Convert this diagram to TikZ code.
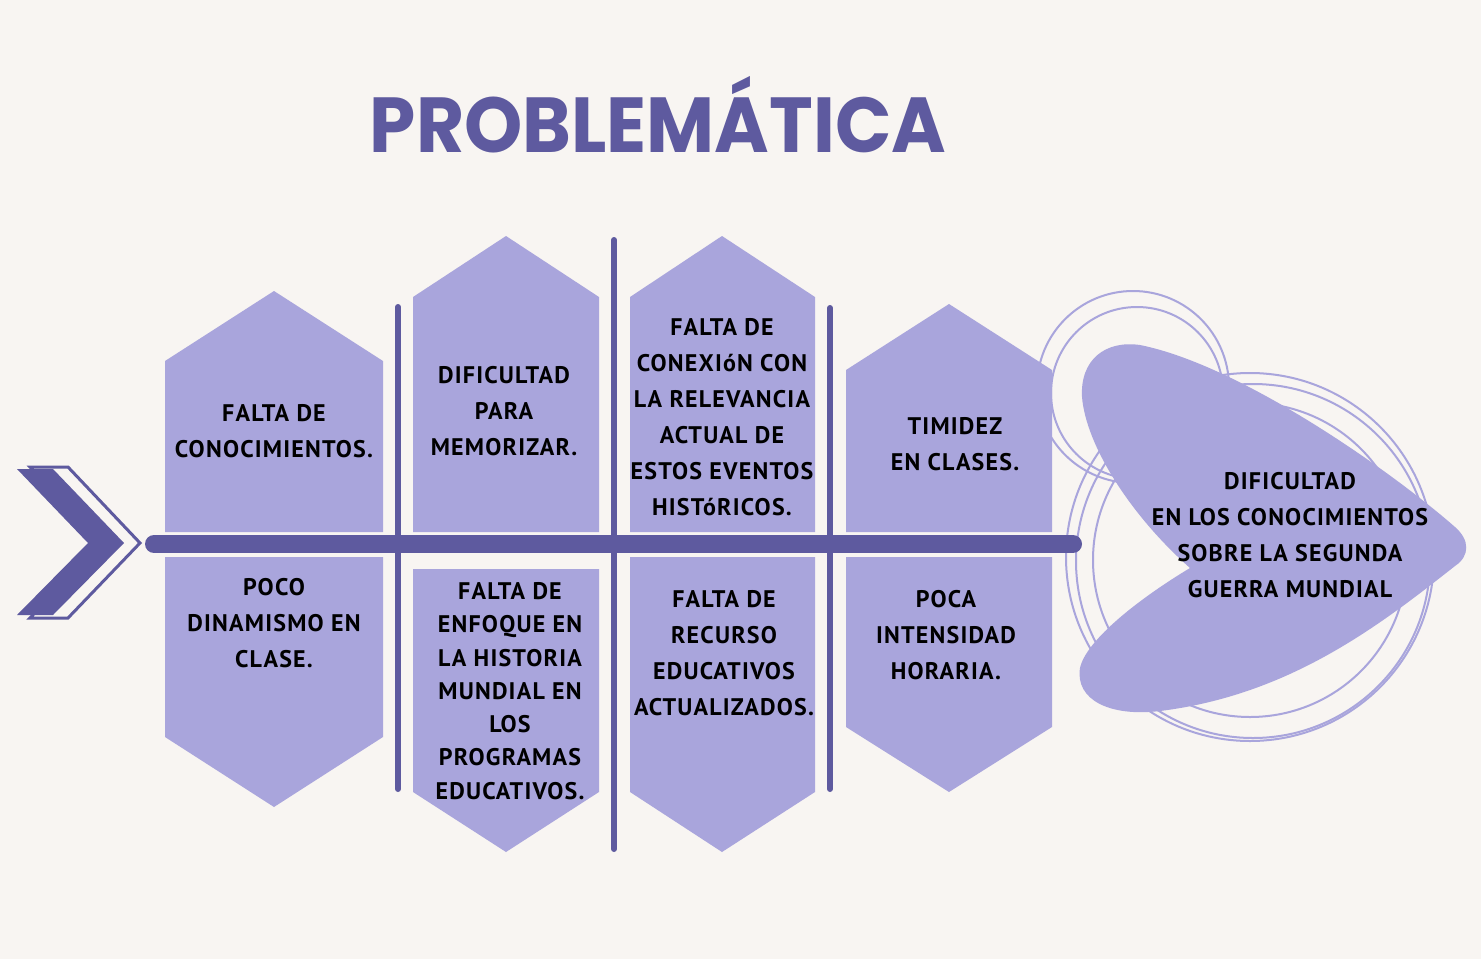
\documentclass[tikz,border=0pt]{standalone}
\usepackage{fontspec}
\newfontfamily\handfont{PT Sans}[LetterSpace=5]
\newfontfamily\titlefont{Poppins}
\definecolor{bg}{RGB}{248,245,242}
\definecolor{lav}{RGB}{169,165,220}
\definecolor{ink}{RGB}{94,90,159}
\tikzset{
  pent/.style={fill=lav, draw=none},
  bone/.style={draw=ink, line width=6pt, line cap=round},
  spine/.style={draw=ink, line width=18pt, line cap=round},
  ring/.style={draw=lav, line width=2pt},
  lbl/.style={font=\handfont\bfseries\fontsize{24}{36}\selectfont, align=center, text=black, inner sep=0pt},
  lbltight/.style={font=\handfont\bfseries\fontsize{24}{33.3}\selectfont, align=center, text=black, inner sep=0pt},
}
\begin{document}
\begin{tikzpicture}[x=1pt,y=-1pt]
\useasboundingbox (0,0) rectangle (1481,959);
\fill[bg] (0,0) rectangle (1481,959);

% title
\node[anchor=base, text=ink, inner sep=0pt, font=\titlefont\bfseries\fontsize{78}{80}\selectfont] (title) at (658,152) {\scalebox{0.95}[1]{PROBLEMÁTICA}};

% rings behind the head
\draw[ring] (1133,387) circle (96);
\draw[ring] (1137,393) circle (86);
\draw[ring] (1250,557) circle (184);
\draw[ring] (1253,561) circle (177);
\draw[ring] (1250,560) circle (157);

% head blob
\fill[lav] (1190,568) .. controls (1130,515) and (1086,445) .. (1082,397)
  .. controls (1080,360) and (1105,340) .. (1140,345)
  .. controls (1240,365) and (1390,470) .. (1455,527)
  .. controls (1470,540) and (1470,556) .. (1455,566)
  .. controls (1380,625) and (1290,695) .. (1160,711)
  .. controls (1110,717) and (1075,700) .. (1080,668)
  .. controls (1086,640) and (1140,598) .. (1190,568) -- cycle;

% top pentagons
\fill[pent] (165,532) -- (165,361) -- (274,291) -- (383,361) -- (383,532) -- cycle;
\fill[pent] (413,532) -- (413,297) -- (506,236) -- (599,297) -- (599,532) -- cycle;
\fill[pent] (630,532) -- (630,297) -- (722,236) -- (815,297) -- (815,532) -- cycle;
\fill[pent] (846,532) -- (846,370) -- (949,304) -- (1052,370) -- (1052,532) -- cycle;
% bottom pentagons
\fill[pent] (165,557) -- (165,737) -- (274,807) -- (383,737) -- (383,557) -- cycle;
\fill[pent] (413,569) -- (413,792) -- (506,852) -- (599,792) -- (599,569) -- cycle;
\fill[pent] (630,557) -- (630,792) -- (722,852) -- (815,792) -- (815,557) -- cycle;
\fill[pent] (846,557) -- (846,727) -- (949,792) -- (1052,727) -- (1052,557) -- cycle;

% spine and bones
\coordinate (sL) at (154,544);
\coordinate (sR) at (1073,544);
\draw[spine] (sL) -- (sR);
\coordinate (v1t) at (398,307); \coordinate (v1b) at (398,789);
\coordinate (v2t) at (614,240); \coordinate (v2b) at (614,849);
\coordinate (v3t) at (830,308); \coordinate (v3b) at (830,789);
\draw[bone] (v1t) -- (v1b);
\draw[bone] (v2t) -- (v2b);
\draw[bone] (v3t) -- (v3b);

% tail chevrons
\draw[ink, line width=3pt, fill=bg, line join=miter] (30,467) -- (68,467) -- (140,543) -- (68,618) -- (30,618) -- (102,543) -- cycle;
\fill[ink] (17,469) -- (53,469) -- (124,543) -- (53,615) -- (17,615) -- (88,543) -- cycle;

% labels
\node[lbl] (a) at (274,431) {FALTA DE\\CONOCIMIENTOS.};
\node[lbl] (b) at (504,411) {DIFICULTAD\\PARA\\MEMORIZAR.};
\node[lbl] (c) at (722,417) {FALTA DE\\CONEXIóN CON\\LA RELEVANCIA\\ACTUAL DE\\ESTOS EVENTOS\\HISTóRICOS.};
\node[lbl] (d) at (955,444) {TIMIDEZ\\EN CLASES.};
\node[lbl] (e) at (274,623) {POCO\\DINAMISMO EN\\CLASE.};
\node[lbltight] (f) at (510,691) {FALTA DE\\ENFOQUE EN\\LA HISTORIA\\MUNDIAL EN\\LOS\\PROGRAMAS\\EDUCATIVOS.};
\node[lbl] (g) at (724,653) {FALTA DE\\RECURSO\\EDUCATIVOS\\ACTUALIZADOS.};
\node[lbl] (h) at (946,635) {POCA\\INTENSIDAD\\HORARIA.};
\node[lbl] (head) at (1290,535) {DIFICULTAD\\EN LOS CONOCIMIENTOS\\SOBRE LA SEGUNDA\\GUERRA MUNDIAL};
\end{tikzpicture}
\end{document}
